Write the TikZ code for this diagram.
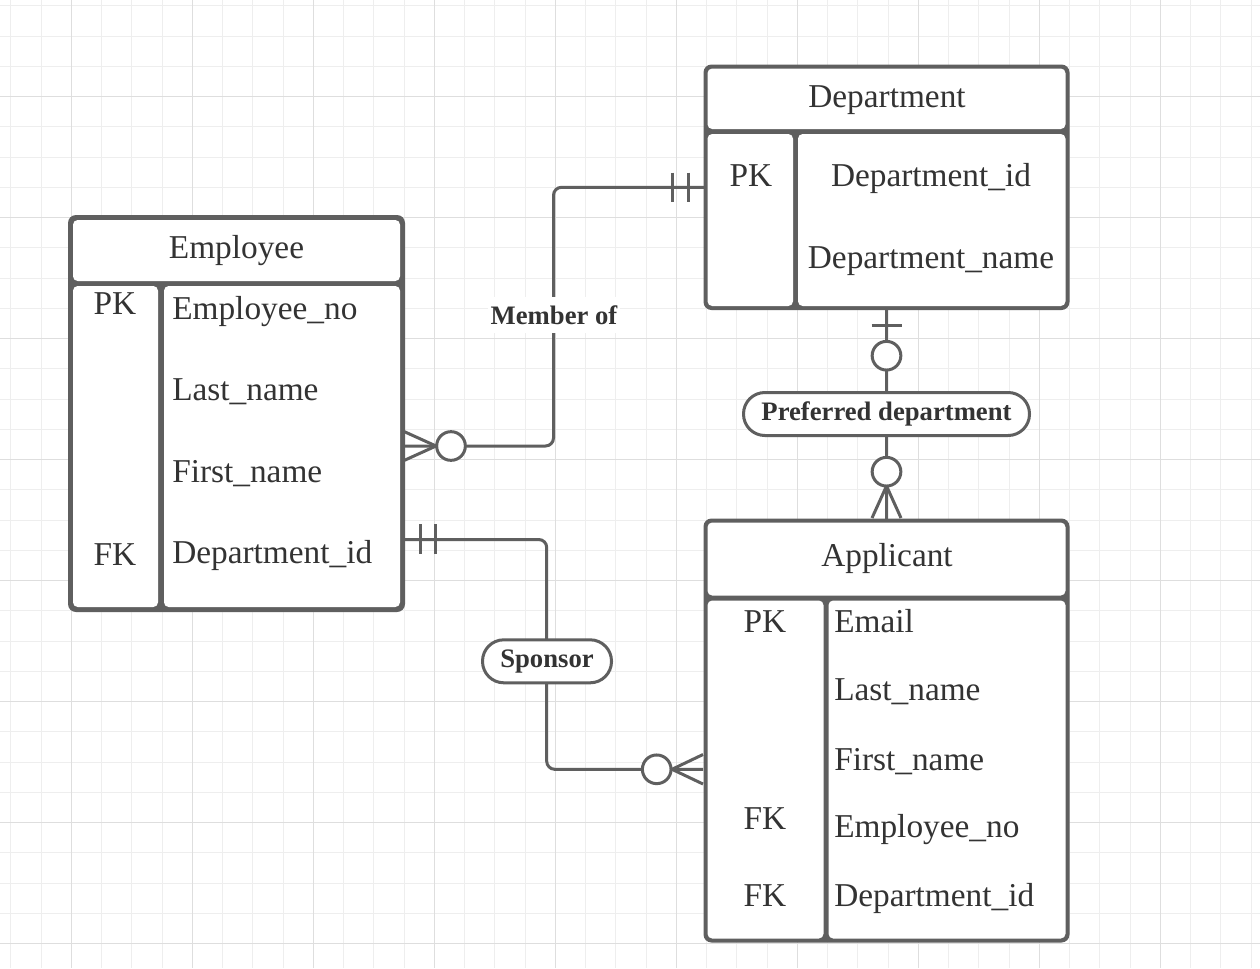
\documentclass[tikz,border=0pt]{standalone}
\usepackage{fontspec}
\setmainfont{Liberation Serif}
\usetikzlibrary{fit}
\definecolor{bd}{HTML}{5F5F5F}
\definecolor{tx}{HTML}{333333}
\definecolor{gmin}{HTML}{EEEEEE}
\definecolor{gmaj}{HTML}{DEDEDE}
\begin{document}
\begin{tikzpicture}[x=0.75pt,y=-0.75pt,
 outerbox/.style={fill=bd, draw=none, inner sep=0pt, rounded corners=6pt},
 cellbox/.style={fill=white, draw=none, inner sep=0pt, rounded corners=3.5pt},
 fld/.style={text=tx, font=\fontsize{25}{30}\selectfont, inner sep=0pt},
 lbl/.style={text=tx, font=\bfseries\fontsize{20}{24}\selectfont},
 pill/.style={lbl, draw=bd, line width=2.25pt, fill=white, rounded corners=16pt, minimum height=32.25pt, inner sep=0pt},
 conn/.style={draw=bd, line width=2.25pt},
 opt/.style={circle, draw=bd, fill=white, line width=2.25pt, minimum size=21.5pt, inner sep=0pt},
]
\useasboundingbox (0,0) rectangle (1260,968);
\fill[white] (0,0) rectangle (1260,968);
% grid
\foreach \k in {-2,...,39}{
  \pgfmathsetmacro\xx{71.3+30.25*\k}
  \draw[gmin, line width=0.75pt] (\xx,0) -- (\xx,968);
}
\foreach \k in {-3,...,28}{
  \pgfmathsetmacro\yy{96.7+30.25*\k}
  \draw[gmin, line width=0.75pt] (0,\yy) -- (1260,\yy);
}
\foreach \k in {-1,...,9}{
  \pgfmathsetmacro\xx{71.3+121*\k}
  \draw[gmaj, line width=0.75pt] (\xx,0) -- (\xx,968);
}
\foreach \k in {-1,...,7}{
  \pgfmathsetmacro\yy{96.7+121*\k}
  \draw[gmaj, line width=0.75pt] (0,\yy) -- (1260,\yy);
}

% connector end points
\coordinate (mA) at (704,187.3);
\coordinate (mB) at (404,446);
\coordinate (mC1) at (553.5,187.3);
\coordinate (mC2) at (553.5,446);
\coordinate (sA) at (404,539.5);
\coordinate (sB) at (703,769.3);
\coordinate (sC1) at (546.7,539.5);
\coordinate (sC2) at (546.7,769.3);
\coordinate (pA) at (886.5,310);
\coordinate (pB) at (886.5,518.5);

% connectors
\draw[conn, rounded corners=6pt] (mA) -- (mC1) -- (mC2) -- (mB);
\draw[conn, rounded corners=6pt] (sA) -- (sC1) -- (sC2) -- (sB);
\draw[conn] (pA) -- (pB);

% Member of ends
\draw[conn] (672.7,172.7) -- (672.7,201.7);
\draw[conn] (688.3,172.7) -- (688.3,201.7);
\draw[conn] (436,446) -- (404,431.5);
\draw[conn] (436,446) -- (404,460.5);
\node[opt] (mO) at (451,446) {};

% Sponsor ends
\draw[conn] (420,524.3) -- (420,554.3);
\draw[conn] (435,524.3) -- (435,554.3);
\draw[conn] (672,769.3) -- (703,754.5);
\draw[conn] (672,769.3) -- (703,784);
\node[opt] (sO) at (656.7,769.3) {};

% Preferred department ends
\draw[conn] (871.5,325) -- (901.5,325);
\node[opt] (pO1) at (886.5,355.7) {};
\draw[conn] (886.5,486) -- (872,518);
\draw[conn] (886.5,486) -- (901,518);
\node[opt] (pO2) at (886.5,471.7) {};

% labels
\node[lbl, fill=white, minimum height=27pt, inner xsep=2pt] (memberof) at (554,315) {Member of};
\node[pill, minimum width=96.75pt] (sponsor) at (547,661.3) {Sponsor};
\node[pill, minimum width=214.5pt] (pref) at (886.5,414) {Preferred department};

% Employee table
\node[outerbox, fit={(68,215) (405,612)}] (emp) {};
\node[cellbox, fit={(73,220) (400,281)}] (empH) {};
\node[cellbox, fit={(73,286) (158,607)}] (empK) {};
\node[cellbox, fit={(164,286) (400,607)}] (empF) {};
\node[fld, anchor=base] (empT) at (236.5,258.3) {Employee};
\node[fld, anchor=base] (empPK) at (115,314.3) {PK};
\node[fld, anchor=base] (empFK) at (115,565) {FK};
\node[fld, anchor=base west] (empF1) at (172,319) {Employee\_no};
\node[fld, anchor=base west] (empF2) at (172,400.5) {Last\_name};
\node[fld, anchor=base west] (empF3) at (172,482) {First\_name};
\node[fld, anchor=base west] (empF4) at (172,563.5) {Department\_id};

% Department table
\node[outerbox, fit={(703.5,64.5) (1069.5,310)}] (dep) {};
\node[cellbox, fit={(707.5,68.5) (1065.5,129)}] (depH) {};
\node[cellbox, fit={(707.5,134) (793,306)}] (depK) {};
\node[cellbox, fit={(798,134) (1065.5,306)}] (depF) {};
\node[fld, anchor=base] (depT) at (887,107.3) {Department};
\node[fld, anchor=base] (depPK) at (751,186.7) {PK};
\node[fld, anchor=base] (depF1) at (931,186.7) {Department\_id};
\node[fld, anchor=base] (depF2) at (931,268.3) {Department\_name};

% Applicant table
\node[outerbox, fit={(703.5,518.5) (1069.5,942.5)}] (app) {};
\node[cellbox, fit={(707.5,522.5) (1065.5,595.5)}] (appH) {};
\node[cellbox, fit={(707.5,600.5) (823.5,938.5)}] (appK) {};
\node[cellbox, fit={(828.5,600.5) (1065.5,938.5)}] (appF) {};
\node[fld, anchor=base] (appT) at (887,566) {Applicant};
\node[fld, anchor=base] (appPK) at (765,632.7) {PK};
\node[fld, anchor=base] (appFK1) at (765,829.3) {FK};
\node[fld, anchor=base] (appFK2) at (765,906) {FK};
\node[fld, anchor=base west] (appF1) at (834,632.7) {Email};
\node[fld, anchor=base west] (appF2) at (834,700.7) {Last\_name};
\node[fld, anchor=base west] (appF3) at (834,770) {First\_name};
\node[fld, anchor=base west] (appF4) at (834,837.7) {Employee\_no};
\node[fld, anchor=base west] (appF5) at (834,906) {Department\_id};
\end{tikzpicture}
\end{document}
